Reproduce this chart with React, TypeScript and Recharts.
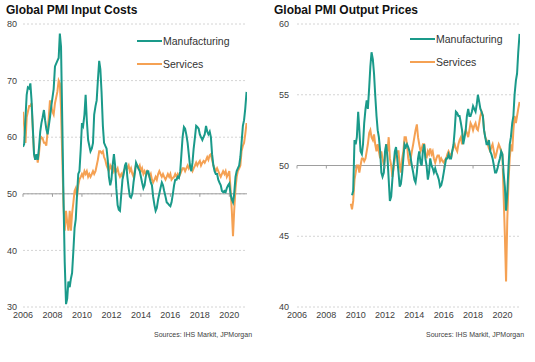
import React from "react";
import { LineChart, Line, XAxis, YAxis, CartesianGrid, ReferenceLine, ReferenceDot } from "recharts";

const TEAL = "#1A9A8A";
const ORANGE = "#F5A153";

const yearTicks = [2006, 2008, 2010, 2012, 2014, 2016, 2018, 2020];
const inputTicks = [30, 40, 50, 60, 70, 80];
const outputTicks = [40, 45, 50, 55, 60];

const inputManufacturing: [number, number][] = [
  [2006.00, 58.3], [2006.08, 58.8], [2006.17, 63.5], [2006.25, 67.5], [2006.33, 68.8], [2006.42, 68.6],
  [2006.50, 69.5], [2006.58, 66.5], [2006.67, 61.5], [2006.75, 57], [2006.83, 56], [2006.92, 57],
  [2007.00, 56], [2007.08, 58], [2007.17, 61], [2007.25, 62.5], [2007.33, 63.5], [2007.42, 64.8],
  [2007.50, 63], [2007.58, 61.5], [2007.67, 60.5], [2007.75, 62], [2007.83, 63.5], [2007.92, 65.5],
  [2008.00, 67], [2008.08, 68.5], [2008.17, 72.5], [2008.25, 73], [2008.33, 73.5], [2008.42, 74],
  [2008.50, 78.3], [2008.58, 76], [2008.67, 62], [2008.75, 49], [2008.83, 38], [2008.92, 30.5],
  [2009.00, 31.5], [2009.08, 34.5], [2009.17, 33.5], [2009.25, 35], [2009.33, 36], [2009.42, 40],
  [2009.50, 44], [2009.58, 45.5], [2009.67, 50], [2009.75, 53.5], [2009.83, 54], [2009.92, 58],
  [2010.00, 62.5], [2010.08, 62], [2010.17, 64], [2010.25, 67.5], [2010.33, 63], [2010.42, 59.5],
  [2010.50, 58.5], [2010.58, 57.5], [2010.67, 58], [2010.75, 59], [2010.83, 64], [2010.92, 65.5],
  [2011.00, 66.5], [2011.08, 70], [2011.17, 73.5], [2011.25, 72], [2011.33, 68], [2011.42, 62],
  [2011.50, 59], [2011.58, 58.5], [2011.67, 58], [2011.75, 56], [2011.83, 53], [2011.92, 51.5],
  [2012.00, 52.5], [2012.08, 55], [2012.17, 57], [2012.25, 55], [2012.33, 51], [2012.42, 48],
  [2012.50, 47.2], [2012.58, 47], [2012.67, 50], [2012.75, 52.5], [2012.83, 53.5], [2012.92, 55],
  [2013.00, 55.5], [2013.08, 53], [2013.17, 51], [2013.25, 49.5], [2013.33, 49.3], [2013.42, 50],
  [2013.50, 52], [2013.58, 53.5], [2013.67, 55.5], [2013.75, 55], [2013.83, 54.5], [2013.92, 54],
  [2014.00, 53], [2014.08, 52], [2014.17, 51], [2014.25, 51.5], [2014.33, 53], [2014.42, 54],
  [2014.50, 54], [2014.58, 53], [2014.67, 52], [2014.75, 51.5], [2014.83, 49.5], [2014.92, 48],
  [2015.00, 47], [2015.08, 47.5], [2015.17, 49], [2015.25, 50], [2015.33, 51], [2015.42, 52],
  [2015.50, 51.5], [2015.58, 50.5], [2015.67, 49.5], [2015.75, 48.5], [2015.83, 48.3], [2015.92, 48],
  [2016.00, 47.8], [2016.08, 48.5], [2016.17, 50], [2016.25, 51.5], [2016.33, 52.5], [2016.42, 52.5],
  [2016.50, 53], [2016.58, 52.8], [2016.67, 54], [2016.75, 57], [2016.83, 60], [2016.92, 61.8],
  [2017.00, 61.5], [2017.08, 60.5], [2017.17, 59], [2017.25, 57], [2017.33, 55], [2017.42, 54],
  [2017.50, 55.5], [2017.58, 58], [2017.67, 60], [2017.75, 62], [2017.83, 61.8], [2017.92, 61.5],
  [2018.00, 60.5], [2018.08, 60], [2018.17, 59.5], [2018.25, 60], [2018.33, 60.5], [2018.42, 62],
  [2018.50, 61], [2018.58, 60.5], [2018.67, 61], [2018.75, 60], [2018.83, 57], [2018.92, 55],
  [2019.00, 54], [2019.08, 53.5], [2019.17, 53.5], [2019.25, 52.5], [2019.33, 52], [2019.42, 51.5],
  [2019.50, 50.5], [2019.58, 50.3], [2019.67, 50.5], [2019.75, 50.3], [2019.83, 51], [2019.92, 51.5],
  [2020.00, 51.8], [2020.08, 50], [2020.17, 49], [2020.25, 48.5], [2020.33, 50], [2020.42, 53],
  [2020.50, 54], [2020.58, 54.5], [2020.67, 55], [2020.75, 56.5], [2020.83, 59], [2020.92, 62],
  [2021.00, 63], [2021.08, 65], [2021.17, 68],
];

const inputServices: [number, number][] = [
  [2006.00, 64.5], [2006.08, 62], [2006.17, 59], [2006.25, 63.5], [2006.33, 64.5], [2006.42, 65.5],
  [2006.50, 65.5], [2006.58, 66], [2006.67, 61], [2006.75, 57], [2006.83, 56], [2006.92, 57],
  [2007.00, 55.5], [2007.08, 57], [2007.17, 59.5], [2007.25, 60], [2007.33, 59.8], [2007.42, 59],
  [2007.50, 59], [2007.58, 58.5], [2007.67, 61], [2007.75, 63.5], [2007.83, 66.5], [2007.92, 65.5],
  [2008.00, 64.5], [2008.08, 64], [2008.17, 66], [2008.25, 67], [2008.33, 68], [2008.42, 70],
  [2008.50, 69.5], [2008.58, 65], [2008.67, 56], [2008.75, 48], [2008.83, 43.5], [2008.92, 47],
  [2009.00, 45], [2009.08, 43.5], [2009.17, 47], [2009.25, 43.5], [2009.33, 46.5], [2009.42, 48.5],
  [2009.50, 50.5], [2009.58, 51], [2009.67, 49.5], [2009.75, 51.5], [2009.83, 52.5], [2009.92, 53],
  [2010.00, 53.5], [2010.08, 53], [2010.17, 54], [2010.25, 53.5], [2010.33, 54], [2010.42, 53],
  [2010.50, 53.5], [2010.58, 53], [2010.67, 53.5], [2010.75, 54], [2010.83, 53.5], [2010.92, 54],
  [2011.00, 55], [2011.08, 56], [2011.17, 57.5], [2011.25, 57.5], [2011.33, 57.2], [2011.42, 57.5],
  [2011.50, 56.5], [2011.58, 56], [2011.67, 55], [2011.75, 54.5], [2011.83, 54], [2011.92, 55],
  [2012.00, 54.5], [2012.08, 55], [2012.17, 54], [2012.25, 54.5], [2012.33, 54], [2012.42, 54.5],
  [2012.50, 53.5], [2012.58, 53], [2012.67, 53.5], [2012.75, 53], [2012.83, 54], [2012.92, 54.5],
  [2013.00, 55], [2013.08, 54.5], [2013.17, 55], [2013.25, 54], [2013.33, 54.5], [2013.42, 53.5],
  [2013.50, 53], [2013.58, 54], [2013.67, 55.2], [2013.75, 55], [2013.83, 54.5], [2013.92, 55],
  [2014.00, 54], [2014.08, 54.5], [2014.17, 53.5], [2014.25, 54], [2014.33, 53.5], [2014.42, 54],
  [2014.50, 53.5], [2014.58, 53], [2014.67, 53.5], [2014.75, 52.5], [2014.83, 52], [2014.92, 52.5],
  [2015.00, 53], [2015.08, 52.5], [2015.17, 53.5], [2015.25, 54], [2015.33, 53.5], [2015.42, 53],
  [2015.50, 53.5], [2015.58, 53], [2015.67, 52.5], [2015.75, 53], [2015.83, 53.5], [2015.92, 53],
  [2016.00, 53.5], [2016.08, 52.5], [2016.17, 52.8], [2016.25, 53], [2016.33, 53.5], [2016.42, 53],
  [2016.50, 53.5], [2016.58, 53], [2016.67, 53.5], [2016.75, 54], [2016.83, 54.5], [2016.92, 54.5],
  [2017.00, 54], [2017.08, 54.5], [2017.17, 55], [2017.25, 54.5], [2017.33, 55], [2017.42, 54.5],
  [2017.50, 54], [2017.58, 54.5], [2017.67, 55], [2017.75, 55.5], [2017.83, 55], [2017.92, 55.5],
  [2018.00, 55.8], [2018.08, 55], [2018.17, 55.5], [2018.25, 55.8], [2018.33, 55.5], [2018.42, 56],
  [2018.50, 56.5], [2018.58, 56], [2018.67, 56.8], [2018.75, 57], [2018.83, 56], [2018.92, 55],
  [2019.00, 54.5], [2019.08, 54], [2019.17, 54.5], [2019.25, 54], [2019.33, 53.5], [2019.42, 53],
  [2019.50, 53.5], [2019.58, 54], [2019.67, 53.5], [2019.75, 54], [2019.83, 53], [2019.92, 53.5],
  [2020.00, 54], [2020.08, 51], [2020.17, 47], [2020.25, 42.5], [2020.33, 47], [2020.42, 51],
  [2020.50, 53], [2020.58, 54], [2020.67, 54.5], [2020.75, 55], [2020.83, 57.5], [2020.92, 58.5],
  [2021.00, 59], [2021.08, 60.5], [2021.17, 62.5],
];

const outputManufacturing: [number, number][] = [
  [2009.75, 47.9], [2009.83, 48.2], [2009.92, 51.8], [2010.00, 51.5], [2010.08, 52], [2010.17, 53.8],
  [2010.25, 52.5], [2010.33, 51], [2010.42, 50.8], [2010.50, 51.5], [2010.58, 53], [2010.67, 54],
  [2010.75, 54.6], [2010.83, 54], [2010.92, 55.5], [2011.00, 57], [2011.08, 58], [2011.17, 57.5],
  [2011.25, 56.5], [2011.33, 55], [2011.42, 53.5], [2011.50, 52.5], [2011.58, 52], [2011.67, 51],
  [2011.75, 49.5], [2011.83, 49.2], [2011.92, 49.5], [2012.00, 51], [2012.08, 51.5], [2012.17, 50.5],
  [2012.25, 49], [2012.33, 47.5], [2012.42, 47.8], [2012.50, 49], [2012.58, 50], [2012.67, 51],
  [2012.75, 51.3], [2012.83, 50.5], [2012.92, 49.5], [2013.00, 48.5], [2013.08, 48.7], [2013.17, 49.5],
  [2013.25, 50.5], [2013.33, 51.5], [2013.42, 51.3], [2013.50, 51.5], [2013.58, 51.3], [2013.67, 51],
  [2013.75, 50.5], [2013.83, 50], [2013.92, 49.5], [2014.00, 49], [2014.08, 48.8], [2014.17, 49.5],
  [2014.25, 50.5], [2014.33, 51], [2014.42, 50.2], [2014.50, 50], [2014.58, 51], [2014.67, 51.5],
  [2014.75, 50.5], [2014.83, 50], [2014.92, 49], [2015.00, 49.5], [2015.08, 50.5], [2015.17, 50],
  [2015.25, 49.8], [2015.33, 49.5], [2015.42, 49.8], [2015.50, 49.5], [2015.58, 49.3], [2015.67, 49],
  [2015.75, 48.5], [2015.83, 48.6], [2015.92, 49], [2016.00, 49.5], [2016.08, 50], [2016.17, 50.5],
  [2016.25, 50.5], [2016.33, 50.8], [2016.42, 50.5], [2016.50, 50.5], [2016.58, 51], [2016.67, 51.5],
  [2016.75, 52.5], [2016.83, 53.8], [2016.92, 53.7], [2017.00, 53.5], [2017.08, 53.5], [2017.17, 53],
  [2017.25, 52.5], [2017.33, 51.5], [2017.42, 52], [2017.50, 52.5], [2017.58, 53.5], [2017.67, 54],
  [2017.75, 53.5], [2017.83, 53.5], [2017.92, 53.8], [2018.00, 54.2], [2018.08, 54], [2018.17, 53.8],
  [2018.25, 54.3], [2018.33, 55], [2018.42, 54.5], [2018.50, 54], [2018.58, 53.8], [2018.67, 53.5],
  [2018.75, 52.5], [2018.83, 52], [2018.92, 51.5], [2019.00, 51.5], [2019.08, 51.8], [2019.17, 51],
  [2019.25, 50.8], [2019.33, 50.5], [2019.42, 50], [2019.50, 49.5], [2019.58, 49.5], [2019.67, 49.8],
  [2019.75, 50.2], [2019.83, 50.5], [2019.92, 51], [2020.00, 50.8], [2020.08, 49.5], [2020.17, 48.5],
  [2020.25, 46.8], [2020.33, 48], [2020.42, 50], [2020.50, 51.5], [2020.58, 52], [2020.67, 53],
  [2020.75, 53.5], [2020.83, 55], [2020.92, 56], [2021.00, 56.5], [2021.08, 58], [2021.17, 59.3],
];

const outputServices: [number, number][] = [
  [2009.67, 47.3], [2009.75, 46.9], [2009.83, 47.5], [2009.92, 49], [2010.00, 49.5], [2010.08, 50],
  [2010.17, 50], [2010.25, 49.5], [2010.33, 50], [2010.42, 50.5], [2010.50, 50.5], [2010.58, 50.3],
  [2010.67, 50.5], [2010.75, 51], [2010.83, 51.5], [2010.92, 52.3], [2011.00, 52.5], [2011.08, 52],
  [2011.17, 51.8], [2011.25, 52.2], [2011.33, 51.5], [2011.42, 51], [2011.50, 51.5], [2011.58, 51],
  [2011.67, 50.5], [2011.75, 51], [2011.83, 50.5], [2011.92, 50], [2012.00, 50.5], [2012.08, 51.5],
  [2012.17, 51], [2012.25, 52], [2012.33, 50.5], [2012.42, 50], [2012.50, 49.2], [2012.58, 49.8],
  [2012.67, 50.5], [2012.75, 50.8], [2012.83, 51], [2012.92, 51], [2013.00, 50], [2013.08, 49.5],
  [2013.17, 50.5], [2013.25, 51], [2013.33, 52], [2013.42, 52], [2013.50, 51.5], [2013.58, 50.5],
  [2013.67, 50], [2013.75, 50.5], [2013.83, 51], [2013.92, 51.5], [2014.00, 52], [2014.08, 52.5],
  [2014.17, 52.9], [2014.25, 52], [2014.33, 51.5], [2014.42, 51], [2014.50, 51.2], [2014.58, 51.5],
  [2014.67, 51.5], [2014.75, 50.8], [2014.83, 50.5], [2014.92, 51], [2015.00, 50.8], [2015.08, 51.2],
  [2015.17, 50.8], [2015.25, 51], [2015.33, 50.5], [2015.42, 50.2], [2015.50, 50.5], [2015.58, 50.7],
  [2015.67, 50.7], [2015.75, 50.3], [2015.83, 50.5], [2015.92, 50.3], [2016.00, 50.2], [2016.08, 50.4],
  [2016.17, 50.5], [2016.25, 50.8], [2016.33, 51], [2016.42, 50.8], [2016.50, 50.5], [2016.58, 51],
  [2016.67, 51.3], [2016.75, 51.5], [2016.83, 51.2], [2016.92, 51], [2017.00, 51.5], [2017.08, 51.8],
  [2017.17, 52], [2017.25, 51.5], [2017.33, 51.8], [2017.42, 52.2], [2017.50, 52.5], [2017.58, 52.3],
  [2017.67, 52], [2017.75, 52.5], [2017.83, 53], [2017.92, 52.8], [2018.00, 52.5], [2018.08, 52.8],
  [2018.17, 53], [2018.25, 52.6], [2018.33, 52.5], [2018.42, 53], [2018.50, 53.5], [2018.58, 53.8],
  [2018.67, 53.5], [2018.75, 52.5], [2018.83, 52], [2018.92, 51.8], [2019.00, 51.5], [2019.08, 51.2],
  [2019.17, 51], [2019.25, 51.3], [2019.33, 51.5], [2019.42, 51], [2019.50, 50.5], [2019.58, 50.8],
  [2019.67, 51.2], [2019.75, 51.5], [2019.83, 51.3], [2019.92, 51], [2020.00, 50.8], [2020.08, 48],
  [2020.17, 45], [2020.25, 41.8], [2020.33, 46], [2020.42, 49], [2020.50, 50.5], [2020.58, 51.5],
  [2020.67, 51], [2020.75, 52.5], [2020.83, 53.5], [2020.92, 53], [2021.00, 53.5], [2021.08, 54],
  [2021.17, 54.5],
];

const toRows = (pairs: [number, number][]) => pairs.map(([t, v]) => ({ t, v }));

const FONT = "'Liberation Sans', Arial, sans-serif";

const legendItems = [
  { name: "Manufacturing", color: TEAL },
  { name: "Services", color: ORANGE },
];

const LegendBox = (props: { left: number; top: number }) => (
  <div style={{ position: "absolute", left: props.left, top: props.top, fontFamily: FONT, fontSize: 10.5, color: "#333" }}>
    {legendItems.map((e) => (
      <div key={e.name} style={{ display: "flex", alignItems: "center", height: 23, whiteSpace: "nowrap" }}>
        <svg width={25} height={4} style={{ marginRight: 1 }}>
          <line x1={0} y1={2} x2={25} y2={2} stroke={e.color} strokeWidth={2} />
        </svg>
        <span>{e.name}</span>
      </div>
    ))}
  </div>
);

const axisTick = { fontSize: 9, fill: "#404040", fontFamily: FONT };

function Panel(props: {
  left: number;
  width: number;
  yWidth: number;
  rightMargin: number;
  title: string;
  yDomain: [number, number];
  yTicks: number[];
  mfg: [number, number][];
  svc: [number, number][];
  legendLeft: number;
  legendTop: number;
  sourceLeft: number;
  yTickMargin: number;
}) {
  const { left, width } = props;
  return (
    <div style={{ position: "absolute", left, top: 0, width, height: 362 }}>
      <LineChart width={width} height={362} margin={{ top: 24, right: props.rightMargin, bottom: 0, left: 0 }}>
        <CartesianGrid horizontal vertical={false} stroke="#d4d4d4" strokeDasharray="2 2" />
        <XAxis
          type="number"
          dataKey="t"
          domain={[2006, 2021.2]}
          ticks={yearTicks}
          allowDataOverflow
          axisLine={false}
          tickLine={false}
          tickSize={0}
          tickMargin={5}
          height={55}
          interval={0}
          tick={axisTick}
        />
        <YAxis
          type="number"
          domain={props.yDomain}
          ticks={props.yTicks}
          allowDataOverflow
          axisLine={false}
          tickLine={false}
          tickSize={0}
          tickMargin={props.yTickMargin}
          width={props.yWidth}
          interval={0}
          tick={axisTick}
        />
        <ReferenceLine y={50} stroke="#9e9e9e" strokeWidth={1} />
        {yearTicks.map((yr) => (
          <ReferenceDot
            key={yr}
            x={yr}
            y={50}
            shape={(p: any) => <line x1={p.cx} y1={p.cy} x2={p.cx} y2={p.cy + 3} stroke="#9e9e9e" strokeWidth={1} />}
          />
        ))}
        <Line data={toRows(props.svc)} dataKey="v" stroke={ORANGE} strokeWidth={2} dot={false} isAnimationActive={false} name="Services" />
        <Line data={toRows(props.mfg)} dataKey="v" stroke={TEAL} strokeWidth={2} dot={false} isAnimationActive={false} name="Manufacturing" />
      </LineChart>
      <LegendBox left={props.legendLeft} top={props.legendTop} />
      <div
        style={{
          position: "absolute",
          left: 6,
          top: 3,
          fontFamily: FONT,
          fontWeight: "bold",
          fontSize: 12,
          color: "#111",
          whiteSpace: "nowrap",
        }}
      >
        {props.title}
      </div>
      <div
        style={{
          position: "absolute",
          left: props.sourceLeft,
          top: 331,
          fontFamily: FONT,
          fontSize: 7,
          color: "#404040",
          whiteSpace: "nowrap",
        }}
      >
        Sources: IHS Markit, JPMorgan
      </div>
    </div>
  );
}

export default function App() {
  return (
    <div style={{ position: "absolute", left: 0, top: 0, width: 535, height: 362, background: "#fff", overflow: "hidden" }}>
      <Panel
        left={0}
        width={270}
        yWidth={23}
        rightMargin={23}
        title="Global PMI Input Costs"
        yDomain={[30, 80]}
        yTicks={inputTicks}
        mfg={inputManufacturing}
        svc={inputServices}
        legendLeft={137}
        legendTop={29}
        sourceLeft={154}
        yTickMargin={6}
      />
      <Panel
        left={268}
        width={267}
        yWidth={29}
        rightMargin={15}
        title="Global PMI Output Prices"
        yDomain={[40, 60]}
        yTicks={outputTicks}
        mfg={outputManufacturing}
        svc={outputServices}
        legendLeft={142}
        legendTop={27}
        sourceLeft={158}
        yTickMargin={8}
      />
    </div>
  );
}
